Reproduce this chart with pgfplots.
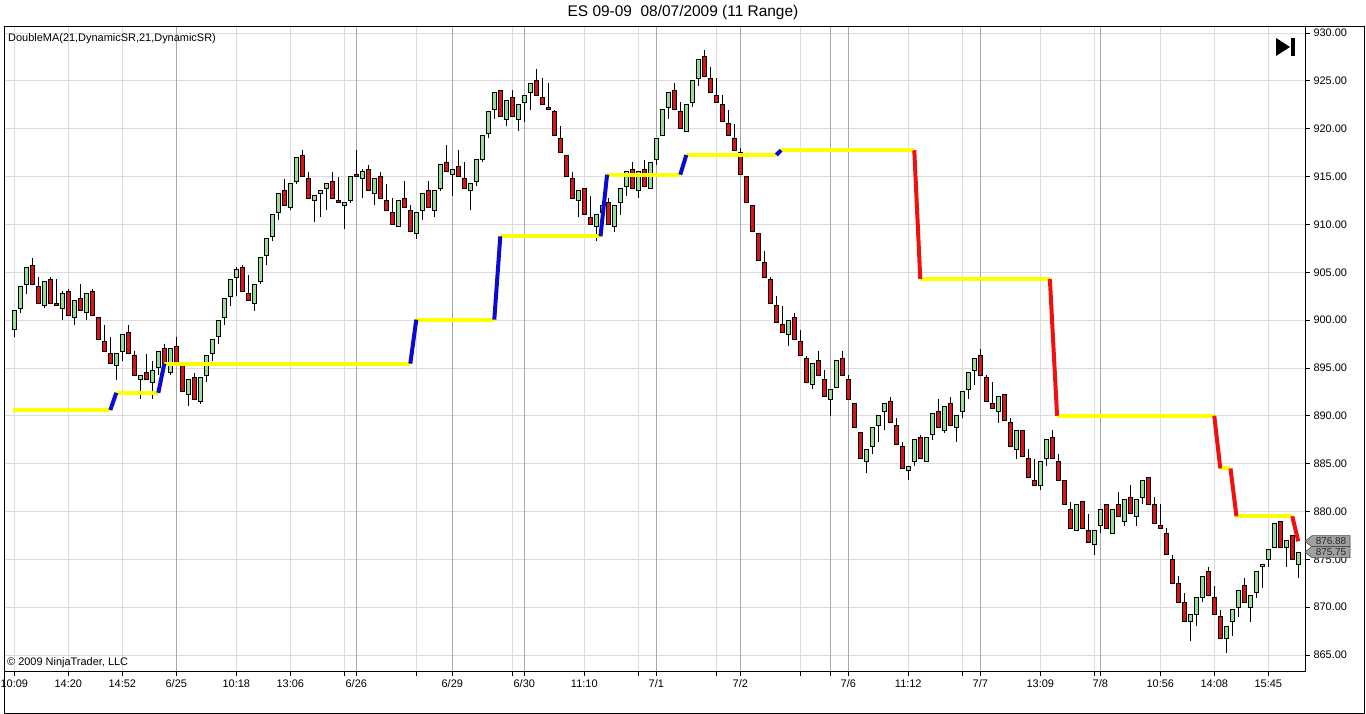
\documentclass[border=0pt]{standalone}
\usepackage{fontspec}
\setmainfont{Liberation Sans}
\usepackage{pgfplots}
\usepackage{pgfplotstable}
\pgfplotsset{compat=1.18}
\definecolor{upgreen}{HTML}{98DC98}
\definecolor{dnred}{HTML}{D81414}
\definecolor{maYellow}{HTML}{FFFF00}
\definecolor{maBlue}{HTML}{0A0AD2}
\definecolor{maRed}{HTML}{F01010}
\definecolor{gridlight}{HTML}{DCDCDC}
\definecolor{griddark}{HTML}{A8A8A8}
\definecolor{markgray}{HTML}{A0A0A0}
% i = bar index, o h l c = open high low close, d = 1 up / 0 down
\pgfplotstableread{
i o h l c d
0 899.0 901.0 898.25 901.0 1
1 901.25 903.5 900.75 903.5 1
2 903.75 905.5 902.75 905.5 1
3 905.75 906.5 903.75 903.75 0
4 903.5 904.5 901.75 901.75 0
5 901.5 904.0 901.25 904.0 1
6 904.25 904.5 901.75 901.75 0
7 901.75 904.25 901.5 901.5 0
8 901.25 903.0 900.0 902.75 1
9 903.0 903.25 900.5 900.5 0
10 900.25 902.0 899.5 902.0 1
11 902.25 903.75 901.0 901.0 0
12 900.75 902.75 900.0 902.75 1
13 903.0 903.25 900.5 900.5 0
14 900.25 900.25 898.0 898.0 0
15 897.75 899.5 896.75 896.75 0
16 896.5 898.25 895.5 895.5 0
17 895.25 896.5 893.75 896.5 1
18 896.75 898.5 895.75 898.5 1
19 898.75 899.5 896.5 896.5 0
20 896.25 896.75 894.25 894.25 0
21 893.75 894.25 891.75 894.25 1
22 894.5 896.5 893.75 893.75 0
23 893.5 895.75 891.75 894.75 1
24 895.0 896.75 894.25 896.75 1
25 897.0 897.5 895.5 895.5 0
26 894.5 897.0 894.25 897.0 1
27 897.25 898.25 895.5 895.5 0
28 895.25 895.25 892.5 892.5 0
29 892.25 893.75 891.0 893.75 1
30 894.0 894.5 891.75 891.75 0
31 891.5 894.0 891.25 894.0 1
32 894.25 896.25 893.5 896.25 1
33 896.5 898.0 895.75 898.0 1
34 898.25 900.0 897.5 900.0 1
35 900.25 902.25 899.5 902.25 1
36 902.5 904.25 901.5 904.25 1
37 904.5 905.5 902.5 905.25 1
38 905.5 905.75 903.0 903.0 0
39 902.75 904.75 902.0 902.0 0
40 901.75 903.75 901.0 903.75 1
41 904.0 906.5 903.75 906.5 1
42 906.75 908.5 905.75 908.5 1
43 908.75 911.0 908.25 911.0 1
44 911.25 913.25 910.5 913.25 1
45 913.5 914.75 912.0 912.0 0
46 911.75 914.25 911.5 914.25 1
47 914.5 917.0 914.25 917.0 1
48 917.25 917.75 915.0 915.0 0
49 914.75 915.5 912.75 912.75 0
50 912.5 913.0 910.25 913.0 1
51 913.25 913.5 910.75 913.5 1
52 913.75 914.25 911.5 914.25 1
53 914.5 915.5 912.75 912.75 0
54 912.5 915.0 912.25 912.25 0
55 912.0 912.25 909.5 912.25 1
56 912.5 915.0 912.25 915.0 1
57 915.25 917.75 915.0 915.0 0
58 914.75 915.75 912.75 915.5 1
59 915.75 916.25 913.5 913.5 0
60 913.25 914.75 912.0 914.75 1
61 915.0 915.5 912.75 912.75 0
62 912.5 914.25 911.5 911.5 0
63 911.25 912.75 910.0 910.0 0
64 909.75 912.5 909.75 912.5 1
65 912.75 914.5 911.75 911.75 0
66 911.5 912.0 909.25 909.25 0
67 909.0 911.25 908.5 911.25 1
68 911.5 913.25 910.5 913.25 1
69 913.5 914.5 911.75 911.75 0
70 911.5 913.5 910.75 913.5 1
71 913.75 916.25 913.5 916.25 1
72 916.5 918.25 915.5 915.5 0
73 915.25 915.75 913.0 915.75 1
74 916.0 917.75 915.0 915.0 0
75 914.75 916.5 913.75 913.75 0
76 913.5 914.25 911.5 914.25 1
77 914.5 916.75 914.0 916.75 1
78 916.75 919.25 916.5 919.25 1
79 919.5 921.75 919.0 921.75 1
80 922.0 923.75 921.0 923.75 1
81 924.0 924.0 921.25 921.25 0
82 921.0 923.0 920.25 923.0 1
83 923.25 924.0 921.25 921.25 0
84 921.0 922.5 919.75 922.5 1
85 922.75 923.5 920.75 923.5 1
86 923.75 924.75 922.0 924.75 1
87 925.0 926.25 923.5 923.5 0
88 923.25 925.25 922.5 922.5 0
89 922.25 924.75 922.0 922.0 0
90 921.75 922.0 919.25 919.25 0
91 919.0 920.25 917.5 917.5 0
92 917.25 917.25 915.0 915.0 0
93 914.75 915.5 912.75 912.75 0
94 912.5 913.5 910.75 913.5 1
95 913.75 913.75 911.0 911.0 0
96 910.75 913.0 910.0 910.0 0
97 909.75 911.0 908.25 911.0 1
98 911.25 912.0 911.0 912.0 1
99 912.25 912.75 910.0 910.0 0
100 909.75 912.0 909.25 912.0 1
101 912.25 913.75 911.0 913.75 1
102 914.0 915.5 913.0 915.5 1
103 915.75 916.5 913.75 913.75 0
104 913.5 915.5 912.75 915.5 1
105 915.75 916.75 914.0 914.0 0
106 913.75 916.5 913.75 916.5 1
107 916.75 919.0 916.25 919.0 1
108 919.25 922.0 919.25 922.0 1
109 922.25 923.75 921.0 923.75 1
110 924.0 924.75 922.0 922.0 0
111 921.75 922.75 920.0 920.0 0
112 919.75 922.5 919.75 922.5 1
113 922.75 925.0 922.25 925.0 1
114 925.25 927.25 924.5 927.25 1
115 927.5 928.25 925.5 925.5 0
116 925.25 926.5 923.75 923.75 0
117 923.5 925.25 922.75 922.75 0
118 922.5 923.5 920.75 920.75 0
119 920.5 922.0 919.25 919.25 0
120 919.0 920.5 917.75 917.75 0
121 917.5 918.0 915.25 915.25 0
122 915.0 915.0 912.25 912.25 0
123 912.0 912.0 909.25 909.25 0
124 909.0 909.0 906.25 906.25 0
125 906.0 907.25 904.5 904.5 0
126 904.25 904.5 901.75 901.75 0
127 901.5 902.5 899.75 899.75 0
128 899.5 901.5 898.75 898.75 0
129 898.5 900.0 897.25 900.0 1
130 900.25 900.75 898.0 898.0 0
131 897.75 899.0 896.25 896.25 0
132 896.0 896.25 893.5 893.5 0
133 893.25 895.5 892.75 895.5 1
134 895.75 896.75 894.25 894.25 0
135 893.75 894.75 892.0 892.0 0
136 891.75 892.75 890.0 892.75 1
137 893.0 895.75 893.0 895.75 1
138 896.0 896.75 894.25 894.25 0
139 893.75 894.25 891.75 891.75 0
140 891.25 891.25 888.75 888.75 0
141 888.25 888.25 885.5 885.5 0
142 885.25 886.5 884.0 886.5 1
143 886.75 888.75 886.0 888.75 1
144 889.0 890.0 887.25 890.0 1
145 890.5 891.25 888.5 891.25 1
146 891.5 892.0 889.25 889.25 0
147 889.0 889.75 887.0 887.0 0
148 886.75 887.25 884.5 884.5 0
149 884.25 884.75 883.25 884.75 1
150 885.25 887.5 884.75 887.5 1
151 887.75 888.0 885.5 885.5 0
152 885.25 887.75 885.25 887.75 1
153 888.0 890.25 887.5 890.25 1
154 890.5 891.75 888.75 888.75 0
155 888.5 891.0 888.25 891.0 1
156 891.25 892.0 889.0 889.0 0
157 888.75 890.0 887.25 890.0 1
158 890.5 892.5 889.75 892.5 1
159 892.75 894.5 891.75 894.5 1
160 894.75 896.0 893.25 896.0 1
161 896.25 897.0 894.25 894.25 0
162 894.0 894.25 891.5 891.5 0
163 891.25 893.5 890.75 890.75 0
164 890.5 892.0 889.25 892.0 1
165 892.25 892.25 889.5 889.5 0
166 889.25 889.75 886.75 886.75 0
167 886.5 888.5 885.5 888.5 1
168 888.5 888.5 885.75 885.75 0
169 885.5 886.5 883.5 883.5 0
170 883.25 885.5 882.75 882.75 0
171 882.75 885.25 882.25 885.25 1
172 885.5 887.5 884.75 887.5 1
173 887.75 888.5 885.5 885.5 0
174 885.25 886.0 883.25 883.25 0
175 883.25 883.25 880.75 880.75 0
176 880.25 881.0 878.25 878.25 0
177 878.0 880.75 878.0 880.75 1
178 881.0 881.0 878.25 878.25 0
179 878.0 879.75 876.75 876.75 0
180 876.5 878.0 875.5 878.0 1
181 878.5 880.25 877.75 880.25 1
182 880.75 880.75 878.25 878.25 0
183 877.75 880.25 877.75 880.25 1
184 880.75 882.0 879.5 879.5 0
185 879.0 881.25 878.5 881.25 1
186 881.5 882.75 879.75 879.75 0
187 879.5 881.25 878.5 881.25 1
188 881.5 883.25 880.75 883.25 1
189 883.5 883.5 880.75 880.75 0
190 880.75 881.5 878.75 878.75 0
191 878.5 880.75 878.25 878.25 0
192 877.75 878.25 875.5 875.5 0
193 875.0 875.5 872.5 872.5 0
194 872.5 873.25 870.5 870.5 0
195 870.5 871.5 868.5 868.5 0
196 868.5 869.25 866.5 869.25 1
197 869.25 871.0 868.0 871.0 1
198 871.0 873.25 870.5 873.25 1
199 873.75 874.25 871.25 871.25 0
200 871.0 872.25 869.25 869.25 0
201 869.0 869.75 866.75 866.75 0
202 866.75 868.0 865.25 868.0 1
203 868.5 869.75 867.0 869.75 1
204 870.0 871.75 869.0 871.75 1
205 872.25 873.0 870.5 870.5 0
206 870.0 871.25 868.5 871.25 1
207 871.5 873.75 871.0 873.75 1
208 874.25 874.5 872.0 874.5 1
209 875.0 876.0 874.25 876.0 1
210 876.25 878.75 876.25 878.75 1
211 879.0 879.0 876.25 876.25 0
212 876.25 877.0 874.25 877.0 1
213 877.5 877.5 875.0 875.0 0
214 874.5 875.75 873.0 875.75 1
}\candles

\begin{document}
\begin{tikzpicture}
\useasboundingbox (0,0) rectangle (1366bp,714bp);
\fill[white] (0,0) rectangle (1366bp,714bp);
\begin{axis}[
  at={(4bp,43bp)}, anchor=south west,
  scale only axis, width=1301bp, height=644bp,
  xmin=-1.717, xmax=215.12, ymin=863.33, ymax=930.63,
  axis line style={black, line width=1bp},
  ytick={865,870,...,930},
  ytick pos=right, yticklabel pos=right,
  xtick pos=bottom,
  tick align=outside, major tick length=5bp,
  tick style={black, line width=0.8bp},
  ymajorgrids, xmajorgrids,
  grid style={gridlight, line width=0.8bp},
  xtick={0,9,18,37,46,55,67,83,95,104,117,131,149,158,171,180,191,200,209},
  xticklabels={10:09,14:20,14:52,10:18,13:06,,,,11:10,,,,11:12,,13:09,,10:56,14:08,15:45},
  extra x ticks={27,57,73,85,107,121,136,139,161,181},
  extra x tick labels={6/25,6/26,6/29,6/30,7/1,7/2,,7/6,7/7,7/8},
  extra x tick style={grid=major, grid style={griddark, line width=0.8bp}},
  tick label style={font=\fontsize{11}{13}\selectfont, text=black},
  /pgf/number format/assume math mode=true,
  yticklabel style={/pgf/number format/.cd, fixed, fixed zerofill, precision=2},
  error bars/error mark=none,
  clip=true,
]
% wicks
\addplot[black, only marks, mark=*, mark size=0pt, mark options={draw=none, fill=none}, forget plot,
  error bars/.cd, y dir=plus, y explicit,
  error bar style={black, line width=1bp}]
  table[x=i, y=l, y error plus expr=\thisrow{h}-\thisrow{l}] {\candles};
% body outlines
\addplot[black, only marks, mark=*, mark size=0pt, mark options={draw=none, fill=none}, forget plot,
  error bars/.cd, y dir=plus, y explicit,
  error bar style={black, line width=5bp, shorten <=-0.5bp, shorten >=-0.5bp}]
  table[x=i, y expr={min(\thisrow{o},\thisrow{c})}, y error plus expr={abs(\thisrow{c}-\thisrow{o})}] {\candles};
% up bodies
\addplot[upgreen, only marks, mark=*, mark size=0pt, mark options={draw=none, fill=none}, forget plot,
  restrict expr to domain={\thisrow{d}}{0.5:1.5},
  error bars/.cd, y dir=plus, y explicit,
  error bar style={upgreen, line width=3bp, shorten <=0.5bp, shorten >=0.5bp}]
  table[x=i, y=o, y error plus expr=\thisrow{c}-\thisrow{o}] {\candles};
% down bodies
\addplot[dnred, only marks, mark=*, mark size=0pt, mark options={draw=none, fill=none}, forget plot,
  restrict expr to domain={\thisrow{d}}{-0.5:0.5},
  error bars/.cd, y dir=plus, y explicit,
  error bar style={dnred, line width=3bp, shorten <=0.5bp, shorten >=0.5bp}]
  table[x=i, y=c, y error plus expr=\thisrow{o}-\thisrow{c}] {\candles};
% DoubleMA line
\addplot[maYellow, line width=4bp, unbounded coords=jump, forget plot] coordinates {
 (-0.17,890.6) (16,890.6) (16.5,nan)
 (17,892.4) (24,892.4) (24.5,nan)
 (25,895.45) (66,895.45) (66.5,nan)
 (67,900.05) (80,900.05) (80.5,nan)
 (81,908.75) (97.7,908.75) (98.2,nan)
 (98.8,915.2) (111,915.2) (111.5,nan)
 (112,917.25) (127,917.25) (127.4,nan)
 (127.8,917.75) (150,917.75) (150.5,nan)
 (151,904.3) (172.6,904.3) (173.2,nan)
 (173.8,890.0) (200,890.0) (200.5,nan)
 (201,884.5) (202.7,884.5) (203.2,nan)
 (203.7,879.5) (213,879.5)
};
\addplot[maBlue, line width=4bp, unbounded coords=jump, forget plot] coordinates {
 (16,890.6) (17,892.4) (20,nan)
 (24,892.4) (25,895.45) (40,nan)
 (66,895.45) (67,900.05) (70,nan)
 (80,900.05) (81,908.75) (90,nan)
 (97.7,908.75) (98.8,915.2) (105,nan)
 (111,915.2) (112,917.25) (120,nan)
 (127,917.25) (127.8,917.75)
};
\addplot[maRed, line width=4bp, unbounded coords=jump, forget plot] coordinates {
 (150,917.75) (151,904.3) (160,nan)
 (172.6,904.3) (173.8,890.0) (180,nan)
 (200,890.0) (201,884.5) (202,nan)
 (202.7,884.5) (203.7,879.5) (208,nan)
 (213,879.5) (214,876.88)
};
\end{axis}
% outer frame
\draw[black, line width=1bp] (4bp,1bp) rectangle (1364bp,687bp);
% price markers on the right axis (876.88 and 875.75)
\begin{scope}[font=\fontsize{10}{11}\selectfont]
\draw[fill=markgray, draw=black!70, line width=0.6bp] (1305bp,172.7bp) -- ++(7bp,5.6bp) -- ++(38bp,0) -- ++(0,-11.2bp) -- ++(-38bp,0) -- cycle;
\node[text=black!85, inner sep=0pt] at (1331bp,172.7bp) {876.88};
\draw[fill=markgray, draw=black!70, line width=0.6bp] (1305bp,161.9bp) -- ++(7bp,5.6bp) -- ++(38bp,0) -- ++(0,-11.2bp) -- ++(-38bp,0) -- cycle;
\node[text=black!85, inner sep=0pt] at (1331bp,161.9bp) {875.75};
\end{scope}
% texts
\node[font=\fontsize{15.5}{18}\selectfont] at (683bp,701bp) {ES 09-09\ \ 08/07/2009 (11 Range)};
\node[anchor=west, inner sep=0pt, font=\fontsize{11}{13}\selectfont] at (8bp,675bp) {DoubleMA(21,DynamicSR,21,DynamicSR)};
\node[anchor=west, inner sep=0pt, font=\fontsize{11}{13}\selectfont] at (7bp,51bp) {\textcopyright{} 2009 NinjaTrader, LLC};
% end-of-chart icon
\fill[black] (1276bp,676bp) -- (1276bp,658bp) -- (1290bp,667bp) -- cycle;
\fill[black] (1291bp,658bp) rectangle (1295bp,676bp);
\end{tikzpicture}
\end{document}
